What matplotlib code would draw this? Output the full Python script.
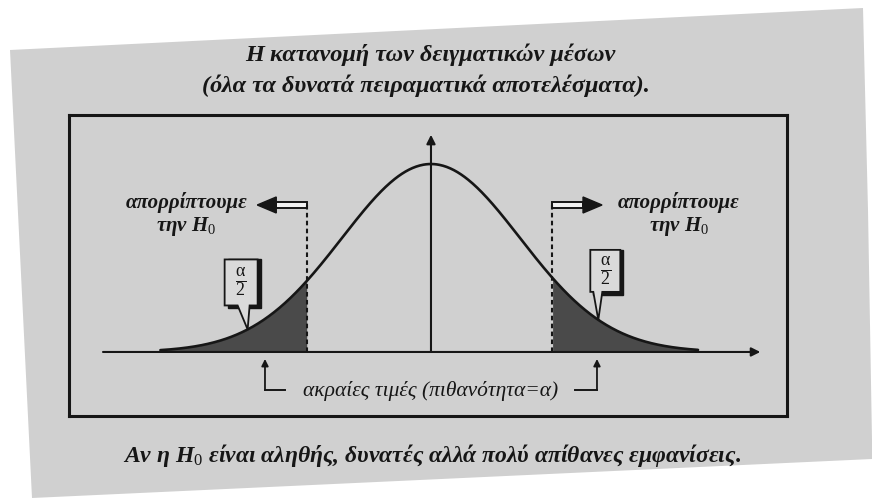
import numpy as np
import matplotlib
matplotlib.use("Agg")
import matplotlib.pyplot as plt
from matplotlib.patches import Polygon

# ---- content -------------------------------------------------------------
title_lines = ["Η κατανομή των δειγματικών μέσων",
               "(όλα τα δυνατά πειραματικά αποτελέσματα)."]
reject_label = "απορρίπτουμε\nτην $H_{\\mathit{0}}$"
tail_label = r"$\frac{\mathrm{\alpha}}{2}$"
extreme_label = "ακραίες τιμές (πιθανότητα=α)"
caption = "Αν η $H_{\\mathit{0}}$ είναι αληθής, δυνατές αλλά πολύ απίθανες εμφανίσεις."

# sampling distribution (standardised units)
mean, sd = 0.0, 1.0
curve_range = (-3.04, 3.00)
crit_left, crit_right = -1.39, 1.36
bubble_z = (-2.06, 1.88)

# ---- style ----------------------------------------------------------------
plt.rcParams["mathtext.fontset"] = "custom"
plt.rcParams["mathtext.it"] = "Liberation Serif:italic:bold"
plt.rcParams["mathtext.rm"] = "Liberation Serif"
plt.rcParams["mathtext.bf"] = "Liberation Serif:bold"
SERIF = ["Liberation Serif", "DejaVu Serif"]
PAGE = "#d0d0d0"
INK = "#161616"

W, H = 872, 498
fig = plt.figure(figsize=(W / 100, H / 100), dpi=100)
fig.patch.set_facecolor("white")

# background layer in pixel units: the printed page
bg = fig.add_axes([0, 0, 1, 1])
bg.set_xlim(0, W)
bg.set_ylim(H, 0)
bg.axis("off")
bg.add_patch(Polygon([(10, 50), (863, 8), (868, 210), (872, 440),
                      (872, 459), (32, 498)], closed=True,
                     facecolor=PAGE, edgecolor="none"))

bg.text(430, 55, title_lines[0], ha="center", va="center", fontsize=17.5,
        family=SERIF, style="italic", weight="bold", color=INK)
bg.text(426, 86, title_lines[1], ha="center", va="center", fontsize=17.5,
        family=SERIF, style="italic", weight="bold", color=INK)
bg.text(432, 455, caption, ha="center", va="center", fontsize=17,
        family=SERIF, style="italic", weight="bold", color=INK)

# framed chart
box_l, box_r, box_t, box_b = 69, 787, 115, 416
ax = fig.add_axes([box_l / W, 1 - box_b / H, (box_r - box_l) / W,
                   (box_b - box_t) / H])
ax.set_facecolor("none")
xlim = (-4.067, 4.0)
ylim = (-0.1359, 0.503)
ax.set_xlim(*xlim)
ax.set_ylim(*ylim)
ax.set_xticks([])
ax.set_yticks([])
for s in ax.spines.values():
    s.set_linewidth(2.2)
    s.set_color(INK)

SX = (box_r - box_l) / (xlim[1] - xlim[0])   # px per x unit
SY = (box_b - box_t) / (ylim[1] - ylim[0])   # px per y unit


def off(x, y, dx, dy):
    """Point shifted by (dx, dy) pixels, dy positive = upwards."""
    return (x + dx / SX, y + dy / SY)


def pdf(z):
    return np.exp(-0.5 * ((z - mean) / sd) ** 2) / (sd * np.sqrt(2 * np.pi))


z = np.linspace(*curve_range, 600)
dens = pdf(z)

# shaded rejection tails
for lo, hi in [(curve_range[0], crit_left), (crit_right, curve_range[1])]:
    m = (z >= lo) & (z <= hi)
    ax.fill_between(z[m], 0, dens[m], color="#4a4a4a", lw=0)

ax.plot(z, dens, color=INK, lw=1.9, solid_capstyle="round")

# axes of the sketch
arrow_kw = dict(arrowstyle="-|>", color=INK, lw=1.5, mutation_scale=13,
                shrinkA=0, shrinkB=0)
ax.annotate("", xy=(3.70, 0), xytext=(-3.685, 0), arrowprops=arrow_kw)
ax.annotate("", xy=(0, 0.461), xytext=(0, 0), arrowprops=arrow_kw)

# critical values: dashed markers and "reject" arrows
arrow_y = 0.312
for c, d in [(crit_left, -1), (crit_right, 1)]:
    ax.plot([c, c], [0, arrow_y + 3 / SY], ls=(0, (2.2, 1.6)), lw=1.5,
            color=INK)
    body_len, head_len = 31, 19
    x1 = c + d * body_len / SX
    bh = 3.2 / SY
    ax.add_patch(Polygon([(c, arrow_y - bh), (x1, arrow_y - bh),
                          (x1, arrow_y + bh), (c, arrow_y + bh)],
                         closed=True, facecolor="#f2f2f2", edgecolor=INK,
                         lw=1.4))
    tip = c + d * (body_len + head_len) / SX
    hh = 8 / SY
    ax.add_patch(Polygon([(x1, arrow_y - hh), (tip, arrow_y),
                          (x1, arrow_y + hh)], closed=True,
                         facecolor=INK, edgecolor=INK, lw=1))

for c, dx in [(crit_left, -121), (crit_right, 127)]:
    ax.text(c + dx / SX, arrow_y + 13 / SY, reject_label, ha="center",
            va="top", fontsize=15, family=SERIF, style="italic",
            weight="bold", color=INK, linespacing=1.15)

# speech bubbles with α/2 pointing at each tail
for bz, (bl, br, base_l, base_r, gap, hgt) in zip(
        bubble_z, [(-23, 10, -10, 2, 24, 46), (-8, 22, -5, 4, 28, 42)]):
    ty = pdf(bz)
    pts = [off(bz, ty, 0, 0), off(bz, ty, base_r, gap),
           off(bz, ty, br, gap), off(bz, ty, br, gap + hgt),
           off(bz, ty, bl, gap + hgt), off(bz, ty, bl, gap),
           off(bz, ty, base_l, gap)]
    shadow = [off(bz, ty, bl + 3, gap + hgt), off(bz, ty, br + 3, gap + hgt),
              off(bz, ty, br + 3, gap - 3), off(bz, ty, bl + 3, gap - 3)]
    ax.add_patch(Polygon(shadow, closed=True, facecolor=INK, edgecolor=INK,
                         lw=1, zorder=4))
    ax.add_patch(Polygon(pts, closed=True, facecolor="#dadada",
                         edgecolor=INK, lw=1.3, zorder=5))
    cx, cy = off(bz, ty, (bl + br) / 2, gap + hgt / 2)
    ax.text(cx, cy, tail_label, ha="center", va="center", fontsize=18.5,
            color=INK, zorder=6)

# bracket under the axis marking the extreme values
lab_y = -(390 - 352) / SY
tip_y = -(359 - 352) / SY
lx = (265 - 431) / SX
rx = (597 - 431) / SX
small = dict(arrowstyle="-|>", color=INK, lw=1.3, mutation_scale=10,
             shrinkA=0, shrinkB=0)
ax.annotate("", xy=(lx, tip_y), xytext=(lx, lab_y), arrowprops=small)
ax.annotate("", xy=(rx, tip_y), xytext=(rx, lab_y), arrowprops=small)
ax.plot([lx, (285 - 431) / SX], [lab_y, lab_y], color=INK, lw=1.4)
ax.plot([(575 - 431) / SX, rx], [lab_y, lab_y], color=INK, lw=1.4)
ax.text(0, lab_y - 1 / SY, extreme_label, ha="center", va="center",
        fontsize=15.5, family=SERIF, style="italic", color=INK)

fig.savefig("out.png", dpi=100)
